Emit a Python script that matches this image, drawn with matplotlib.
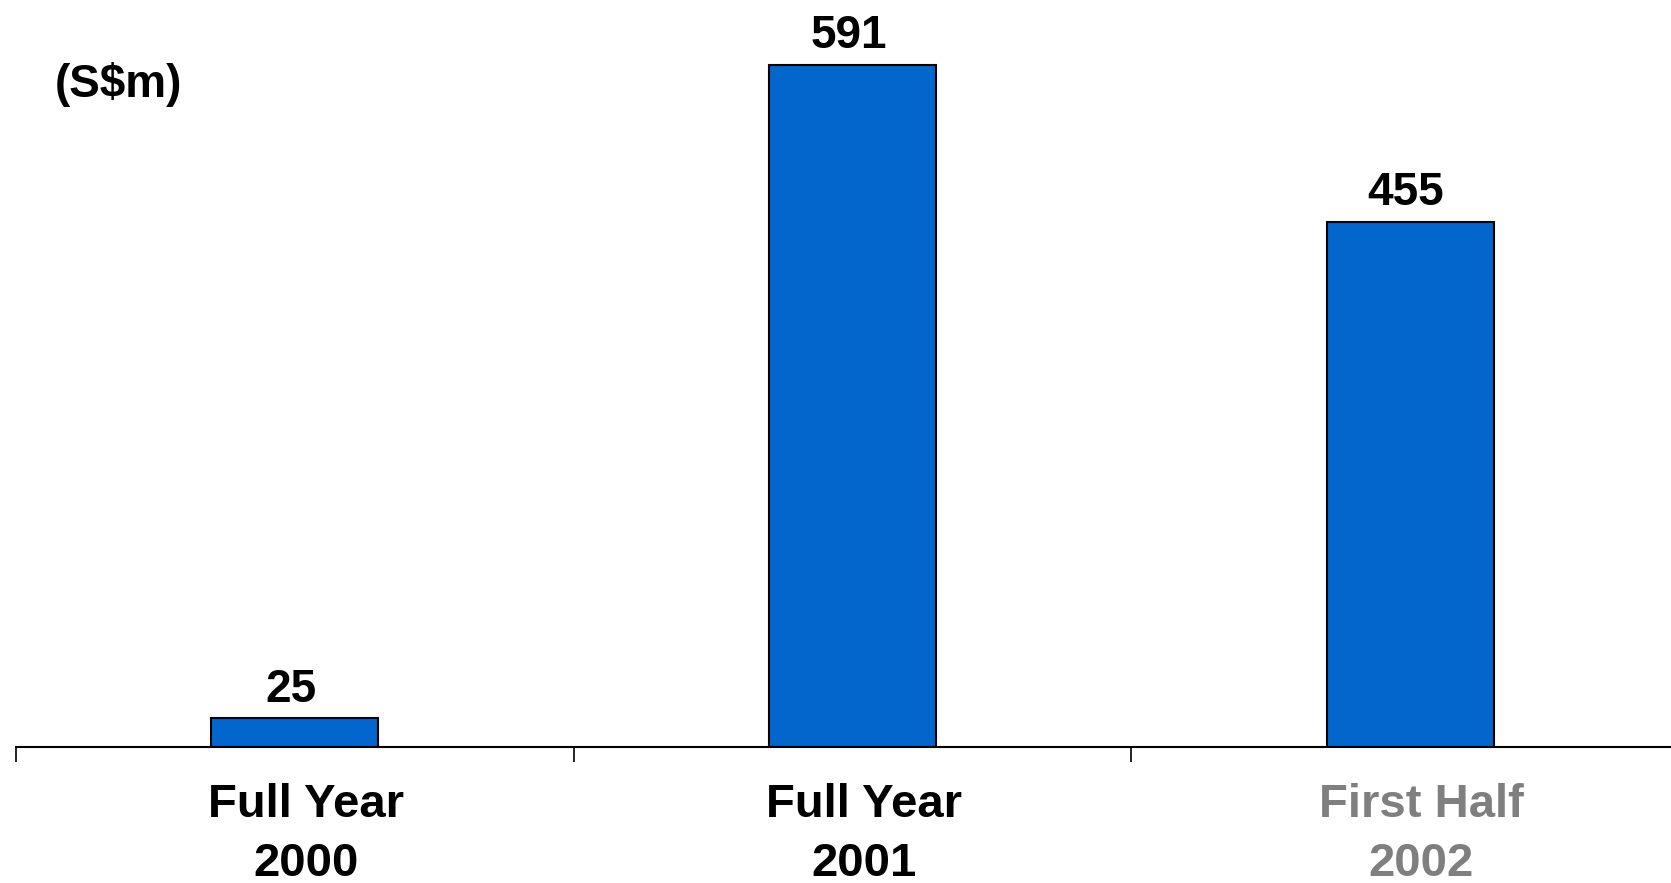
import matplotlib
matplotlib.use("Agg")
import matplotlib.pyplot as plt
import matplotlib.transforms as mtransforms

# Data
categories = ["Full Year\n2000", "Full Year\n2001", "First Half\n2002"]
values = [25, 591, 455]
label_colors = ["black", "black", "#7F7F7F"]
unit_label = "(S$m)"

plt.rcParams["font.family"] = ["Liberation Sans", "DejaVu Sans"]

W, H, DPI = 1671, 883, 100
fig = plt.figure(figsize=(W / DPI, H / DPI), dpi=DPI)

# axes spans just past the right edge so the last category gap matches
ax_left = 16 / W
ax_width = 1673 / W
ax_bottom = (H - 747) / H
ax_height = 747 / H
ax = fig.add_axes([ax_left, ax_bottom, ax_width, ax_height])

x = list(range(len(categories)))
bars = ax.bar(x, values, width=0.30, color="#0366CC", edgecolor="black",
              linewidth=1.5, zorder=2)

for rect, v in zip(bars, values):
    ax.annotate(f"{v}", xy=(rect.get_x() + rect.get_width() / 2, v),
                xytext=(-3, 4.5), textcoords="offset points",
                ha="center", va="bottom", fontsize=33, fontweight="bold")

ax.set_xlim(-0.5, len(categories) - 0.5)
ax.set_ylim(0, 647)

for s in ["top", "right", "left"]:
    ax.spines[s].set_visible(False)
ax.spines["bottom"].set_linewidth(1.5)
ax.spines["bottom"].set_zorder(3)

ax.set_yticks([])
ax.set_xticks([i - 0.5 for i in range(len(categories) + 1)])
ax.set_xticklabels([])
ax.tick_params(axis="x", direction="out", length=11, width=1.2, color="black")
ax.set_xticks(x, minor=True)
ax.set_xticklabels(categories, minor=True, fontsize=34, fontweight="bold",
                   linespacing=1.45)
ax.tick_params(axis="x", which="minor", length=0, pad=26)
shift = mtransforms.ScaledTranslation(8 / 72, 0, fig.dpi_scale_trans)
for lbl, c in zip(ax.get_xticklabels(minor=True), label_colors):
    lbl.set_color(c)
    lbl.set_transform(lbl.get_transform() + shift)

fig.text(55 / W, 1 - 97 / H, unit_label, fontsize=33, fontweight="bold",
         ha="left", va="baseline")

fig.savefig("out.png", dpi=DPI)
